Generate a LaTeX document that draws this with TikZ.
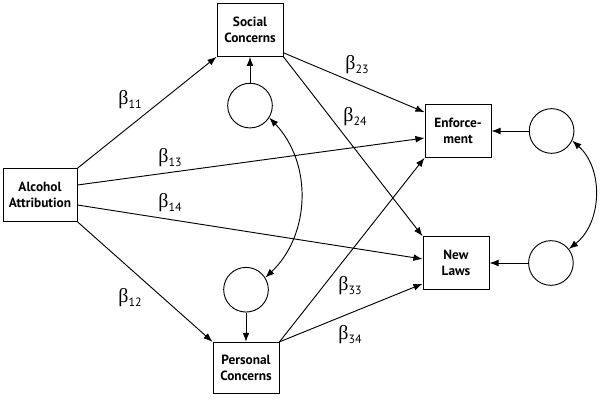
\documentclass[tikz,border=0pt]{standalone}
\usepackage{fontspec}
\setmainfont{PT Sans}
\newfontfamily\grkfont{Liberation Serif}
\usepackage{tikz}
\usetikzlibrary{arrows.meta,positioning,calc}
\tikzset{
  var/.style={draw, line width=0.7pt, align=center, font=\bfseries, minimum width=49.5pt, minimum height=39.5pt, inner sep=1pt},
  err/.style={draw, circle, line width=0.7pt, minimum size=33.5pt, inner sep=0pt},
  coef/.style={inner sep=1pt},
  arrow/.style={-{Latex[length=2.4mm,width=1.8mm]}, line width=0.7pt},
  both/.style={{Latex[length=2.4mm,width=1.8mm]}-{Latex[length=2.4mm,width=1.8mm]}, line width=0.7pt},
}
\newcommand{\bcoef}[1]{{\grkfont\fontsize{15}{15}\selectfont β}\raisebox{-0.6ex}{\small #1}}

\begin{document}
\begin{tikzpicture}[x=0.75pt, y=0.75pt]
\useasboundingbox (0,0) rectangle (601,400);
\node[var, minimum width=55.5pt] (alc) at (40,205) {Alcohol\\Attribution};
\node[var] (soc) at (250,370) {Social\\Concerns};
\node[var, minimum height=38.5pt] (per) at (246,32) {Personal\\Concerns};
\node[var] (enf) at (458,269) {Enforce-\\ment};
\node[var] (law) at (456,137) {New\\Laws};
% error terms
\node[err, below=19.5pt of soc] (esoc) {};
\node[err, above=22pt of per] (eper) {};
\node[err, right=28pt of enf] (eenf) {};
\node[err, right=29pt of law] (elaw) {};
% paths
\draw[arrow] (alc.north east) -- (soc.south west);
\draw[arrow] (alc.south east) -- (per.north west);
\draw[arrow] ($(alc.east)+(0,10)$) -- ($(enf.west)+(0,-7)$);
\draw[arrow] ($(alc.east)+(0,-10)$) -- ($(law.west)+(0,4)$);
\draw[arrow] ($(soc.south east)+(0,4)$) -- ($(enf.north west)+(0,-8)$);
\draw[arrow] (soc.south east) -- (law.north west);
\draw[arrow] (per.north east) -- (enf.south west);
\draw[arrow] (per.north east) -- ($(law.south west)+(0,6)$);
\draw[arrow] (esoc) -- (soc);
\draw[arrow] (eper) -- (per);
\draw[arrow] (eenf) -- (enf);
\draw[arrow] (elaw) -- (law);
\draw[both] (esoc.-32) to[bend left=45] (eper.32);
\draw[both] (eenf.-25) to[bend left=50] (elaw.38);
% labels
\node[coef] (b11) at (130,300) {\bcoef{11}};
\node[coef] (b13) at (170,242) {\bcoef{13}};
\node[coef] (b14) at (170,197) {\bcoef{14}};
\node[coef] (b12) at (130,102) {\bcoef{12}};
\node[coef] (b23) at (357,335) {\bcoef{23}};
\node[coef] (b24) at (355,283) {\bcoef{24}};
\node[coef] (b33) at (350,114) {\bcoef{33}};
\node[coef] (b34) at (350,65) {\bcoef{34}};
\end{tikzpicture}
\end{document}
